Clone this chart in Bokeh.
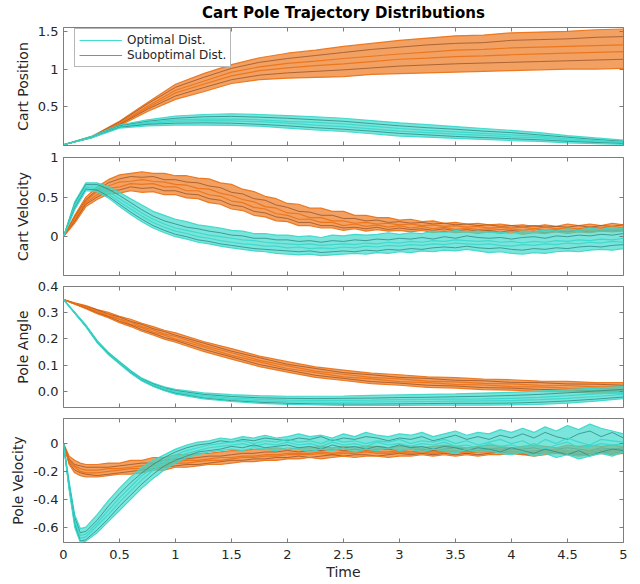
import numpy as np
from bokeh.plotting import figure
from bokeh.models import (Range1d, LinearAxis, FixedTicker, Legend, LegendItem,
                          CustomLabelingPolicy)
from bokeh.layouts import column
from bokeh.embed import file_html
from bokeh.resources import INLINE

# ---------------- data ----------------
TITLE = "Cart Pole Trajectory Distributions"
SERIES_NAMES = ["Optimal Dist.", "Suboptimal Dist."]
Y_LABELS = ["Cart Position", "Cart Velocity", "Pole Angle", "Pole Velocity"]

X_TICKS = [0, 0.5, 1, 1.5, 2, 2.5, 3, 3.5, 4, 4.5, 5]
X_TICK_LABELS = ["0", "0.5", "1", "1.5", "2", "2.5", "3", "3.5", "4", "4.5", "5"]
POS_TICKS = [0.5, 1, 1.5]
POS_TICK_LABELS = ["0.5", "1", "1.5"]
VEL_TICKS = [0, 0.5, 1]
VEL_TICK_LABELS = ["0", "0.5", "1"]
ANG_TICKS = [0, 0.1, 0.2, 0.3, 0.4]
ANG_TICK_LABELS = ["0.0", "0.1", "0.2", "0.3", "0.4"]
PVEL_TICKS = [-0.6, -0.4, -0.2, 0]
PVEL_TICK_LABELS = ["-0.6", "-0.4", "-0.2", "0"]

# time grids
T_POS = [0, 0.25, 0.5, 0.75, 1, 1.25, 1.5, 1.75, 2, 2.25, 2.5, 2.75, 3, 3.25, 3.5,
         3.75, 4, 4.25, 4.5, 4.75, 5]
T_VEL = [0, 0.1, 0.2, 0.3, 0.4, 0.5, 0.6, 0.7, 0.8, 0.9, 1.0,
         1.1, 1.2, 1.3, 1.4, 1.5, 1.6, 1.7, 1.8, 1.9, 2.0,
         2.1, 2.2, 2.3, 2.4, 2.5, 2.6, 2.7, 2.8, 2.9, 3.0,
         3.1, 3.2, 3.3, 3.4, 3.5, 3.6, 3.7, 3.8, 3.9, 4.0,
         4.1, 4.2, 4.3, 4.4, 4.5, 4.6, 4.7, 4.8, 4.9, 5.0]
T_ANG = [0, 0.1, 0.2, 0.3, 0.4, 0.5, 0.6, 0.7, 0.8, 0.9, 1.0,
         1.25, 1.5, 1.75, 2, 2.25, 2.5, 2.75, 3, 3.25, 3.5, 3.75, 4, 4.25, 4.5, 4.75, 5]
T_PVEL = [0, 0.05, 0.1, 0.15, 0.2,
          0.3, 0.4, 0.5, 0.6, 0.7, 0.8, 0.9, 1.0,
          1.1, 1.2, 1.3, 1.4, 1.5, 1.6, 1.7, 1.8, 1.9, 2.0,
          2.1, 2.2, 2.3, 2.4, 2.5, 2.6, 2.7, 2.8, 2.9, 3.0,
          3.1, 3.2, 3.3, 3.4, 3.5, 3.6, 3.7, 3.8, 3.9, 4.0,
          4.1, 4.2, 4.3, 4.4, 4.5, 4.6, 4.7, 4.8, 4.9, 5.0]

# Cart position
POS_OPTIMAL = [
    [0, .11, .26, .33, .38, .40, .41, .40, .385, .37, .35, .32, .29, .265, .24, .215, .19, .16, .12, .09, .06],
    [0, .105, .25, .31, .35, .37, .375, .365, .35, .33, .31, .28, .25, .225, .205, .18, .16, .13, .10, .07, .045],
    [0, .10, .24, .295, .33, .34, .34, .33, .31, .295, .275, .245, .215, .19, .17, .15, .13, .11, .08, .055, .035],
    [0, .10, .235, .28, .31, .32, .315, .305, .285, .26, .24, .21, .18, .16, .14, .125, .105, .09, .06, .04, .025],
    [0, .095, .23, .27, .285, .29, .285, .27, .25, .225, .205, .18, .15, .13, .11, .095, .08, .065, .045, .03, .015],
    [0, .09, .22, .25, .26, .26, .255, .245, .22, .195, .175, .145, .115, .10, .085, .07, .055, .045, .025, .015, .005],
]
POS_SUBOPTIMAL = [
    [0, .11, .31, .56, .80, .94, 1.06, 1.15, 1.21, 1.25, 1.30, 1.34, 1.38, 1.41, 1.44, 1.45, 1.48, 1.49, 1.50, 1.52, 1.53],
    [0, .105, .30, .54, .76, .89, 1.01, 1.09, 1.14, 1.18, 1.22, 1.26, 1.29, 1.32, 1.34, 1.35, 1.38, 1.39, 1.40, 1.42, 1.43],
    [0, .10, .285, .51, .72, .84, .96, 1.03, 1.075, 1.105, 1.14, 1.17, 1.20, 1.225, 1.25, 1.26, 1.28, 1.29, 1.30, 1.31, 1.32],
    [0, .10, .275, .49, .685, .80, .91, .98, 1.015, 1.045, 1.07, 1.10, 1.13, 1.145, 1.165, 1.175, 1.19, 1.20, 1.21, 1.22, 1.23],
    [0, .095, .265, .47, .645, .755, .86, .92, .95, .97, .99, 1.015, 1.04, 1.055, 1.07, 1.08, 1.09, 1.10, 1.11, 1.12, 1.13],
    [0, .09, .25, .44, .60, .70, .81, .86, .88, .89, .90, .93, .94, .95, .96, .97, .98, .99, 1.00, 1.00, 1.01],
]

# Cart velocity
VEL_OPTIMAL = [
    [0, .44, .68, .68, .63, .56, .48, .40, .32, .27, .22,
     .19, .15, .13, .11, .08, .07, .04, .04, .02, .02,
     .00, .01, -.01, .02, .01, .03, .02, .03, .05, .03,
     .05, .04, .07, .05, .08, .06, .07, .05, .06, .04,
     .07, .06, .09, .07, .10, .08, .11, .09, .12, .10],
    [0, .42, .66, .66, .60, .52, .43, .34, .26, .20, .16,
     .12, .10, .07, .05, .02, .01, -.02, -.02, -.04, -.04,
     -.06, -.05, -.07, -.05, -.06, -.04, -.05, -.03, -.04, -.02,
     -.03, -.01, -.03, .00, -.02, .01, -.01, -.02, -.01, -.03,
     -.01, .00, -.02, .01, .00, .02, .01, .03, .02, .04],
    [0, .40, .64, .64, .57, .48, .39, .30, .22, .16, .11,
     .08, .05, .02, .00, -.02, -.04, -.05, -.07, -.08, -.09,
     -.10, -.09, -.11, -.10, -.09, -.10, -.08, -.09, -.07, -.08,
     -.06, -.07, -.05, -.06, -.04, -.05, -.06, -.05, -.07, -.06,
     -.08, -.06, -.07, -.05, -.06, -.04, -.05, -.03, -.04, -.02],
    [0, .38, .62, .61, .54, .44, .35, .26, .18, .12, .07,
     .04, .00, -.02, -.05, -.07, -.09, -.10, -.12, -.12, -.14,
     -.13, -.15, -.14, -.15, -.13, -.14, -.12, -.13, -.11, -.12,
     -.10, -.11, -.09, -.10, -.08, -.09, -.10, -.09, -.11, -.12,
     -.10, -.11, -.09, -.10, -.08, -.09, -.07, -.08, -.06, -.07],
    [0, .36, .60, .59, .51, .41, .31, .22, .14, .08, .03,
     .00, -.04, -.06, -.09, -.11, -.13, -.15, -.16, -.17, -.18,
     -.19, -.18, -.20, -.19, -.18, -.19, -.17, -.18, -.16, -.17,
     -.15, -.16, -.14, -.13, -.14, -.12, -.14, -.15, -.14, -.16,
     -.17, -.15, -.16, -.14, -.15, -.13, -.12, -.13, -.11, -.10],
    [0, .34, .58, .57, .49, .38, .28, .19, .11, .05, .00,
     -.03, -.07, -.09, -.12, -.14, -.16, -.18, -.19, -.21, -.22,
     -.23, -.22, -.24, -.23, -.22, -.21, -.22, -.20, -.21, -.19,
     -.20, -.18, -.19, -.17, -.18, -.16, -.18, -.20, -.19, -.21,
     -.22, -.20, -.21, -.19, -.18, -.19, -.17, -.16, -.17, -.15],
]
VEL_SUBOPTIMAL = [
    [0, .27, .50, .63, .72, .78, .80, .82, .80, .80, .77,
     .77, .74, .73, .68, .66, .60, .57, .51, .48, .42,
     .41, .36, .36, .32, .32, .27, .27, .24, .24, .21,
     .22, .19, .20, .17, .18, .16, .17, .15, .16, .14,
     .15, .13, .15, .13, .16, .14, .16, .14, .17, .15],
    [0, .25, .47, .59, .68, .73, .76, .75, .76, .72, .72,
     .69, .68, .64, .62, .56, .54, .48, .46, .40, .37,
     .32, .31, .27, .27, .23, .23, .20, .21, .18, .19,
     .17, .18, .16, .17, .15, .16, .14, .15, .13, .14,
     .12, .14, .12, .13, .12, .14, .12, .14, .13, .15],
    [0, .23, .45, .57, .64, .69, .70, .72, .70, .69, .66,
     .65, .61, .60, .55, .52, .47, .44, .38, .36, .30,
     .29, .24, .24, .20, .20, .17, .18, .16, .17, .15,
     .16, .14, .15, .13, .14, .12, .13, .11, .12, .11,
     .12, .10, .12, .10, .11, .10, .12, .11, .13, .11],
    [0, .21, .43, .53, .61, .63, .67, .66, .67, .63, .63,
     .58, .58, .53, .51, .45, .43, .37, .35, .29, .27,
     .22, .22, .18, .18, .14, .16, .13, .15, .12, .14,
     .11, .13, .10, .12, .09, .11, .09, .10, .09, .10,
     .08, .10, .08, .09, .07, .09, .08, .10, .09, .11],
    [0, .19, .41, .50, .58, .59, .63, .61, .62, .58, .58,
     .54, .53, .48, .46, .40, .38, .32, .30, .25, .23,
     .18, .18, .14, .14, .11, .12, .10, .12, .09, .11,
     .09, .10, .08, .10, .07, .09, .07, .08, .06, .08,
     .06, .07, .05, .07, .06, .08, .06, .08, .07, .09],
    [0, .17, .38, .47, .54, .55, .58, .56, .57, .53, .53,
     .49, .48, .43, .41, .35, .33, .27, .25, .20, .19,
     .14, .14, .11, .11, .08, .10, .07, .09, .07, .08,
     .06, .08, .05, .07, .05, .06, .04, .06, .04, .06,
     .03, .05, .04, .06, .04, .06, .05, .07, .06, .07],
]

# Pole angle
ANG_OPTIMAL = [
    [.35, .302, .253, .194, .149, .114, .079, .05, .031, .017, .007,
     -.006, -.013, -.017, -.019, -.019, -.018, -.016, -.014, -.012, -.01, -.007, -.004, .001, .006, .012, .018],
    [.35, .301, .251, .192, .147, .112, .077, .047, .028, .013, .003,
     -.012, -.02, -.025, -.027, -.028, -.027, -.026, -.024, -.023, -.021, -.019, -.016, -.012, -.006, .001, .007],
    [.35, .300, .250, .190, .145, .110, .075, .045, .025, .01, -.002,
     -.017, -.026, -.031, -.034, -.035, -.035, -.034, -.032, -.031, -.030, -.029, -.027, -.023, -.017, -.01, -.003],
    [.35, .299, .249, .189, .144, .108, .073, .043, .022, .007, -.005,
     -.022, -.031, -.037, -.04, -.041, -.042, -.041, -.04, -.039, -.038, -.037, -.036, -.032, -.027, -.02, -.012],
    [.35, .298, .247, .187, .142, .106, .071, .041, .02, .004, -.008,
     -.026, -.036, -.042, -.046, -.048, -.049, -.049, -.048, -.047, -.046, -.046, -.045, -.042, -.037, -.03, -.022],
    [.35, .297, .246, .186, .140, .104, .069, .039, .018, .002, -.011,
     -.029, -.039, -.046, -.05, -.052, -.054, -.054, -.054, -.053, -.053, -.053, -.052, -.05, -.045, -.038, -.028],
]
ANG_SUBOPTIMAL = [
    [.35, .338, .327, .312, .301, .286, .275, .259, .247, .233, .223,
     .190, .163, .134, .113, .093, .081, .069, .063, .055, .052, .046, .044, .039, .038, .033, .033],
    [.35, .336, .324, .311, .295, .283, .267, .255, .239, .228, .214,
     .184, .153, .128, .103, .087, .071, .063, .053, .049, .042, .040, .034, .033, .028, .027, .023],
    [.35, .336, .322, .306, .293, .276, .264, .247, .234, .219, .209,
     .175, .147, .118, .097, .077, .065, .053, .047, .039, .036, .030, .028, .023, .022, .017, .017],
    [.35, .334, .318, .304, .287, .274, .256, .243, .226, .215, .199,
     .169, .137, .112, .087, .071, .055, .047, .037, .033, .026, .024, .018, .017, .012, .011, .007],
    [.35, .333, .317, .299, .285, .267, .253, .235, .221, .206, .194,
     .160, .131, .102, .081, .061, .049, .037, .031, .023, .020, .014, .012, .007, .006, .001, .001],
    [.35, .332, .315, .296, .281, .262, .247, .229, .215, .199, .187,
     .152, .123, .094, .073, .053, .041, .029, .023, .015, .012, .006, .004, -.001, -.002, -.007, -.007],
]

# Pole velocity
PVEL_OPTIMAL = [
    [0, -.27, -.51, -.61, -.60,
     -.51, -.41, -.32, -.24, -.17, -.12, -.08, -.04,
     -.01, .01, .02, .04, .03, .05, .04, .06, .04, .05,
     .07, .05, .06, .04, .07, .05, .08, .06, .05, .07,
     .06, .08, .05, .07, .09, .06, .08, .07, .10, .08,
     .11, .08, .12, .09, .13, .10, .14, .11, .09, .07],
    [0, -.29, -.53, -.64, -.63,
     -.55, -.45, -.36, -.28, -.21, -.15, -.10, -.06,
     -.03, -.01, .00, .02, .01, .03, .02, .04, .03, .02,
     .04, .03, .05, .02, .04, .03, .05, .04, .02, .04,
     .03, .05, .02, .04, .06, .03, .05, .03, .06, .04,
     .07, .04, .08, .05, .03, .07, .09, .05, .08, .04],
    [0, -.30, -.55, -.66, -.65,
     -.57, -.48, -.39, -.31, -.23, -.17, -.12, -.08,
     -.05, -.03, -.01, .00, .01, .02, .00, .02, .01, .03,
     .01, .02, .00, .03, .01, .02, .00, .02, .01, .03,
     .00, .02, .01, .03, .00, .02, -.01, .01, .03, .00,
     .02, -.02, .03, .00, .04, .01, -.01, .03, .02, .01],
    [0, -.31, -.57, -.68, -.67,
     -.59, -.51, -.42, -.34, -.26, -.19, -.14, -.10,
     -.07, -.05, -.03, -.02, -.01, .00, -.02, .00, -.01, .01,
     -.01, .00, -.02, .01, -.01, .00, -.02, .01, -.01, .00,
     -.02, .00, -.01, .01, -.02, -.01, -.03, .00, -.02, -.01,
     -.03, .00, -.04, -.01, .01, -.03, -.02, .00, -.01, .00],
    [0, -.32, -.58, -.70, -.69,
     -.62, -.54, -.45, -.37, -.29, -.22, -.16, -.12,
     -.09, -.06, -.05, -.04, -.02, -.03, -.01, -.03, -.02, -.01,
     -.03, -.02, -.04, -.01, -.03, -.02, -.04, -.02, -.03, -.01,
     -.03, -.02, -.04, -.02, -.03, -.05, -.03, -.04, -.06, -.03,
     -.05, -.07, -.04, -.06, -.08, -.05, -.09, -.06, -.04, -.05],
    [0, -.33, -.60, -.71, -.70,
     -.64, -.56, -.48, -.40, -.32, -.25, -.19, -.14,
     -.10, -.08, -.06, -.05, -.04, -.05, -.03, -.04, -.05, -.03,
     -.04, -.06, -.04, -.05, -.03, -.06, -.04, -.05, -.03, -.05,
     -.04, -.06, -.04, -.05, -.07, -.04, -.06, -.05, -.07, -.08,
     -.06, -.09, -.07, -.10, -.08, -.11, -.09, -.07, -.09, -.06],
]
PVEL_SUBOPTIMAL = [
    [0, -.09, -.12, -.14, -.15,
     -.15, -.14, -.14, -.12, -.12, -.10, -.10, -.08,
     -.08, -.07, -.07, -.06, -.05, -.05, -.04, -.04, -.03, -.04,
     -.03, -.03, -.02, -.03, -.02, -.03, -.02, -.02, -.03, -.02,
     -.02, -.03, -.02, -.01, -.02, -.03, -.02, -.01, -.02, -.03,
     -.02, -.01, -.02, -.03, -.01, -.02, -.01, -.02, -.01, -.02],
    [0, -.11, -.15, -.16, -.17,
     -.17, -.17, -.16, -.15, -.14, -.14, -.12, -.11,
     -.11, -.10, -.09, -.09, -.08, -.07, -.07, -.06, -.06, -.05,
     -.06, -.05, -.05, -.04, -.05, -.04, -.05, -.04, -.04, -.05,
     -.04, -.04, -.05, -.04, -.03, -.04, -.05, -.04, -.03, -.04,
     -.04, -.03, -.05, -.04, -.03, -.04, -.05, -.03, -.04, -.03],
    [0, -.12, -.16, -.18, -.19,
     -.19, -.18, -.18, -.17, -.16, -.15, -.14, -.13,
     -.12, -.12, -.11, -.10, -.10, -.09, -.09, -.08, -.08, -.07,
     -.07, -.07, -.06, -.07, -.06, -.06, -.05, -.06, -.06, -.05,
     -.06, -.05, -.06, -.05, -.05, -.06, -.05, -.05, -.04, -.05,
     -.06, -.05, -.05, -.04, -.05, -.06, -.05, -.04, -.05, -.04],
    [0, -.13, -.17, -.20, -.21,
     -.21, -.20, -.19, -.18, -.18, -.16, -.16, -.14,
     -.14, -.13, -.12, -.12, -.11, -.10, -.10, -.09, -.09, -.08,
     -.08, -.08, -.07, -.08, -.07, -.07, -.06, -.07, -.07, -.06,
     -.07, -.06, -.07, -.06, -.06, -.07, -.06, -.06, -.05, -.06,
     -.07, -.06, -.06, -.05, -.06, -.07, -.06, -.05, -.06, -.05],
    [0, -.14, -.19, -.21, -.22,
     -.23, -.22, -.21, -.20, -.19, -.18, -.17, -.16,
     -.15, -.15, -.14, -.13, -.12, -.12, -.11, -.11, -.10, -.10,
     -.09, -.10, -.09, -.08, -.09, -.08, -.08, -.09, -.08, -.07,
     -.08, -.07, -.08, -.07, -.08, -.07, -.08, -.07, -.06, -.07,
     -.08, -.07, -.07, -.06, -.07, -.08, -.07, -.06, -.07, -.06],
    [0, -.15, -.21, -.23, -.24,
     -.24, -.23, -.22, -.22, -.21, -.19, -.19, -.17,
     -.17, -.16, -.15, -.15, -.14, -.13, -.13, -.12, -.12, -.11,
     -.11, -.10, -.11, -.10, -.09, -.10, -.09, -.09, -.10, -.09,
     -.09, -.08, -.09, -.08, -.09, -.08, -.09, -.08, -.08, -.07,
     -.08, -.09, -.08, -.07, -.08, -.09, -.08, -.07, -.08, -.07],
]

# ---------------- styling ----------------
FONT = "DejaVu Sans"
TEXT = "#262626"
FRAME = "#7d7d7d"
TEAL, TEAL_DARK = "#3cd8cb", "#2a8c85"
ORANGE, ORANGE_DARK = "#ec7419", "#9c5428"
LEGEND_TEAL, LEGEND_ORANGE = "#40dccf", "#c07d4c"

HIDE_ALL = """
for (const i of indices)
    indices.unset(i)
return indices
"""


def hide_labels(ax):
    ax.major_label_policy = CustomLabelingPolicy(code=HIDE_ALL)
    ax.major_label_text_font_size = "1px"
    ax.major_label_standoff = 0


def style_axis(ax, ticks, labels=None):
    ax.ticker = FixedTicker(ticks=ticks)
    if labels is not None:
        ax.major_label_overrides = {t: l for t, l in zip(ticks, labels)}
    ax.axis_line_color = None
    ax.major_tick_in = 4
    ax.major_tick_out = 0
    ax.major_tick_line_color = FRAME
    ax.minor_tick_line_color = None
    ax.major_label_text_font = FONT
    ax.major_label_text_font_size = "13px"
    ax.major_label_text_color = TEXT
    ax.axis_label_text_font = FONT
    ax.axis_label_text_font_size = "14px"
    ax.axis_label_text_font_style = "normal"
    ax.axis_label_text_color = TEXT


def make_panel(height, top, bottom, yr, yticks, ylabels, ylabel, show_x):
    p = figure(width=640, height=height, x_range=Range1d(0, 5), y_range=Range1d(*yr),
               output_backend="svg", toolbar_location=None,
               min_border_left=63, min_border_right=17,
               min_border_top=top, min_border_bottom=bottom,
               background_fill_color="white", border_fill_color="white")
    p.grid.visible = False
    p.outline_line_color = FRAME
    p.outline_line_width = 1
    style_axis(p.xaxis[0], X_TICKS, X_TICK_LABELS)
    style_axis(p.yaxis[0], yticks, ylabels)
    p.yaxis[0].axis_label = ylabel
    p.yaxis[0].major_label_standoff = 5
    p.yaxis[0].axis_label_standoff = 4
    if show_x:
        p.xaxis[0].axis_label = "Time"
        p.xaxis[0].major_label_standoff = 7
        p.xaxis[0].axis_label_standoff = 2
    else:
        hide_labels(p.xaxis[0])
    top_ax = LinearAxis()
    style_axis(top_ax, X_TICKS)
    hide_labels(top_ax)
    p.add_layout(top_ax, "above")
    right_ax = LinearAxis()
    style_axis(right_ax, yticks)
    hide_labels(right_ax)
    p.add_layout(right_ax, "right")
    return p


def draw_group(p, t, lines, main, dark):
    arr = np.array(lines, dtype=float)
    lo, hi = arr.min(axis=0), arr.max(axis=0)
    p.varea(x=t, y1=lo, y2=hi, fill_color=main, fill_alpha=0.68)
    for i, ys in enumerate(lines):
        if i in (1, 4):
            p.line(t, ys, line_color=dark, line_width=1, line_alpha=0.8)
        else:
            p.line(t, ys, line_color=main, line_width=1.2, line_alpha=0.95)


p1 = make_panel(149, 26, 1, (-0.01, 1.55), POS_TICKS, POS_TICK_LABELS, Y_LABELS[0], False)
p2 = make_panel(130, 8, 0, (-0.49, 1.0), VEL_TICKS, VEL_TICK_LABELS, Y_LABELS[1], False)
p3 = make_panel(132, 7, 1, (-0.062, 0.4), ANG_TICKS, ANG_TICK_LABELS, Y_LABELS[2], False)
p4 = make_panel(173, 7, 42, (-0.71, 0.18), PVEL_TICKS, PVEL_TICK_LABELS, Y_LABELS[3], True)

for p, t, opt, sub in [(p1, T_POS, POS_OPTIMAL, POS_SUBOPTIMAL),
                       (p2, T_VEL, VEL_OPTIMAL, VEL_SUBOPTIMAL),
                       (p3, T_ANG, ANG_OPTIMAL, ANG_SUBOPTIMAL),
                       (p4, T_PVEL, PVEL_OPTIMAL, PVEL_SUBOPTIMAL)]:
    draw_group(p, t, sub, ORANGE, ORANGE_DARK)
    draw_group(p, t, opt, TEAL, TEAL_DARK)

p1.title.text = TITLE
p1.title.align = "center"
p1.title.text_font = FONT
p1.title.text_font_size = "15px"
p1.title.text_font_style = "bold"
p1.title.text_color = "#000000"
p1.title.standoff = 3

# legend sample lines sit outside the visible x range; only their legend glyphs show
leg_opt = p1.line([-2, -1], [0.5, 0.5], line_color=LEGEND_TEAL, line_width=1.2)
leg_sub = p1.line([-2, -1], [0.5, 0.5], line_color=LEGEND_ORANGE, line_width=1.2)
legend = Legend(items=[LegendItem(label=SERIES_NAMES[0], renderers=[leg_opt]),
                       LegendItem(label=SERIES_NAMES[1], renderers=[leg_sub])],
                location=(11, 78), margin=0, padding=4, spacing=1,
                glyph_width=43, glyph_height=14, label_height=14, label_standoff=5,
                label_text_font=FONT, label_text_font_size="12px", label_text_color=TEXT,
                border_line_color="#6e6e6e", border_line_width=1,
                background_fill_color="white", background_fill_alpha=1.0)
p1.add_layout(legend, "center")

layout = column(p1, p2, p3, p4, spacing=0)
open("out.html", "w").write(file_html(layout, INLINE))
